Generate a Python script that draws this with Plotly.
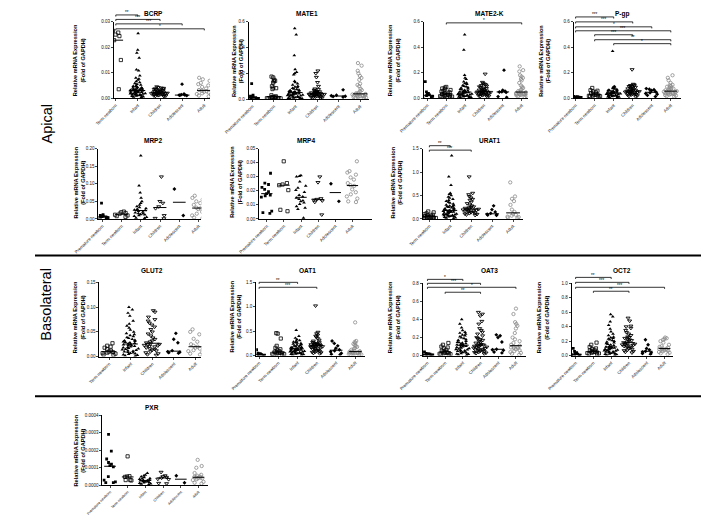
import numpy as np
import plotly.graph_objects as go

W, H = 709, 516
FONT = "Arial, 'Liberation Sans', sans-serif"

GROUPS = ["Premature newborn", "Term newborn", "Infant", "Children", "Adolescent", "Adult"]

# ---------------- data (relative mRNA expression, fold of GAPDH) ----------------
bcrp_term = [0.0265, 0.0258, 0.0250, 0.0244, 0.0228, 0.0178, 0.0150, 0.0108, 0.0035]
bcrp_infant = [0.0255, 0.0190, 0.0178, 0.0158, 0.0112, 0.0108, 0.0088, 0.0080, 0.0076, 0.0072,
               0.0066, 0.0062, 0.0058, 0.0055, 0.0052, 0.0049, 0.0047, 0.0045, 0.0043, 0.0041,
               0.0040, 0.0038, 0.0037, 0.0036, 0.0035, 0.0034, 0.0033, 0.0032, 0.0031, 0.0030,
               0.0030, 0.0029, 0.0028, 0.0028, 0.0027, 0.0026, 0.0025, 0.0025, 0.0024, 0.0023,
               0.0022, 0.0022, 0.0021, 0.0020, 0.0019, 0.0018, 0.0018, 0.0017, 0.0016, 0.0015,
               0.0014, 0.0013, 0.0012, 0.0011, 0.0010, 0.0009, 0.0008, 0.0006, 0.0005, 0.0004]
bcrp_children = [0.0045, 0.0042, 0.0040, 0.0039, 0.0037, 0.0036, 0.0035, 0.0034, 0.0032, 0.0030,
                 0.0029, 0.0028, 0.0027, 0.0026, 0.0025, 0.0024, 0.0023, 0.0022, 0.0021, 0.0021,
                 0.0020, 0.0019, 0.0018, 0.0018, 0.0017, 0.0016, 0.0015, 0.0015, 0.0014, 0.0013,
                 0.0012, 0.0011, 0.0010, 0.0009, 0.0008, 0.0007]
bcrp_adolescent = [0.0055, 0.0016, 0.0014, 0.0012, 0.0012, 0.0011, 0.0010]
bcrp_adult = [0.0080, 0.0074, 0.0068, 0.0060, 0.0055, 0.0050, 0.0044, 0.0038, 0.0032, 0.0029,
              0.0027, 0.0025, 0.0022, 0.0019, 0.0016, 0.0013, 0.0010, 0.0007]

mate1_prem = [0.120, 0.030, 0.024, 0.020, 0.016, 0.013, 0.011, 0.010, 0.008, 0.006, 0.005, 0.004]
mate1_term = [0.175, 0.168, 0.150, 0.142, 0.138, 0.128, 0.100, 0.090, 0.085, 0.078, 0.030, 0.022,
              0.018, 0.016, 0.014, 0.013, 0.011, 0.010, 0.009, 0.008, 0.007, 0.006, 0.005, 0.004]
mate1_infant = [0.55, 0.50, 0.34, 0.23, 0.21, 0.20, 0.19, 0.14, 0.13, 0.12, 0.11, 0.10, 0.095,
                0.09, 0.085, 0.08, 0.075, 0.07, 0.068, 0.065, 0.062, 0.06, 0.058, 0.055, 0.052,
                0.05, 0.048, 0.046, 0.044, 0.042, 0.04, 0.038, 0.036, 0.034, 0.032, 0.03, 0.028,
                0.026, 0.024, 0.022, 0.02, 0.018, 0.016, 0.014, 0.012, 0.01, 0.008, 0.006, 0.004, 0.003]
mate1_children = [0.22, 0.20, 0.17, 0.13, 0.10, 0.08, 0.075, 0.07, 0.065, 0.06, 0.058, 0.055,
                  0.052, 0.05, 0.048, 0.046, 0.045, 0.044, 0.042, 0.04, 0.039, 0.038, 0.036, 0.035,
                  0.034, 0.032, 0.03, 0.028, 0.026, 0.024, 0.022, 0.02, 0.018, 0.015, 0.012, 0.01, 0.008]
mate1_adol = [0.072, 0.030, 0.026, 0.022, 0.020, 0.016]
mate1_adult = [0.28, 0.26, 0.22, 0.20, 0.18, 0.165, 0.15, 0.12, 0.11, 0.10, 0.08, 0.07, 0.06,
               0.05, 0.045, 0.042, 0.04, 0.038, 0.036, 0.034, 0.032, 0.03, 0.028, 0.026, 0.024,
               0.022, 0.02, 0.018, 0.015, 0.012, 0.009, 0.006]

mate2k_prem = [0.13, 0.05, 0.038, 0.03, 0.025, 0.02, 0.017, 0.014, 0.011, 0.008]
mate2k_term = [0.088, 0.082, 0.076, 0.07, 0.064, 0.058, 0.052, 0.046, 0.04, 0.036, 0.032, 0.028,
               0.025, 0.022, 0.02, 0.018, 0.015, 0.012, 0.01, 0.008]
mate2k_infant = [0.50, 0.38, 0.18, 0.16, 0.15, 0.13, 0.12, 0.115, 0.11, 0.10, 0.095, 0.09, 0.085,
                 0.08, 0.075, 0.07, 0.066, 0.062, 0.058, 0.055, 0.052, 0.05, 0.048, 0.046, 0.044,
                 0.042, 0.04, 0.038, 0.036, 0.034, 0.032, 0.03, 0.028, 0.026, 0.024, 0.022, 0.02,
                 0.018, 0.016, 0.014, 0.012, 0.01, 0.008, 0.006, 0.004]
mate2k_children = [0.19, 0.125, 0.115, 0.11, 0.105, 0.1, 0.095, 0.09, 0.085, 0.08, 0.076, 0.072,
                   0.068, 0.064, 0.06, 0.058, 0.056, 0.054, 0.052, 0.05, 0.048, 0.046, 0.044, 0.042,
                   0.04, 0.038, 0.036, 0.034, 0.032, 0.03, 0.028, 0.025, 0.022, 0.02, 0.017, 0.014, 0.01]
mate2k_adol = [0.22, 0.062, 0.055, 0.05, 0.048, 0.045, 0.012, 0.006]
mate2k_adult = [0.25, 0.22, 0.21, 0.18, 0.17, 0.16, 0.15, 0.14, 0.12, 0.10, 0.09, 0.08, 0.07,
                0.062, 0.055, 0.05, 0.046, 0.043, 0.04, 0.038, 0.036, 0.034, 0.032, 0.031, 0.03,
                0.028, 0.027, 0.025, 0.022, 0.018, 0.014, 0.01]

pgp_prem = [0.016, 0.013, 0.011, 0.009, 0.008, 0.007, 0.006, 0.005, 0.004, 0.003]
pgp_term = [0.08, 0.062, 0.058, 0.052, 0.046, 0.04, 0.034, 0.03, 0.026, 0.022, 0.02, 0.018, 0.015,
            0.012, 0.01]
pgp_infant = [0.37, 0.092, 0.088, 0.084, 0.08, 0.076, 0.072, 0.068, 0.065, 0.062, 0.06, 0.058,
              0.056, 0.054, 0.052, 0.05, 0.048, 0.046, 0.044, 0.042, 0.04, 0.039, 0.038, 0.036,
              0.035, 0.034, 0.032, 0.03, 0.028, 0.026, 0.024, 0.022, 0.02, 0.018, 0.016, 0.014,
              0.012, 0.01, 0.008, 0.006]
pgp_children = [0.225, 0.11, 0.105, 0.1, 0.098, 0.095, 0.092, 0.09, 0.086, 0.082, 0.078, 0.074,
                0.07, 0.066, 0.063, 0.06, 0.058, 0.056, 0.054, 0.052, 0.05, 0.048, 0.046, 0.044,
                0.042, 0.04, 0.038, 0.035, 0.032, 0.03, 0.027, 0.024, 0.02, 0.016, 0.012]
pgp_adol = [0.075, 0.07, 0.066, 0.06, 0.05, 0.042, 0.036, 0.03, 0.022, 0.012]
pgp_adult = [0.18, 0.16, 0.14, 0.12, 0.105, 0.1, 0.095, 0.09, 0.085, 0.08, 0.075, 0.07, 0.066,
             0.062, 0.058, 0.055, 0.052, 0.05, 0.048, 0.045, 0.042, 0.04, 0.038, 0.035, 0.032,
             0.03, 0.027, 0.024, 0.02, 0.016, 0.012]

mrp2_prem = [0.045, 0.012, 0.010, 0.009, 0.008, 0.007, 0.006, 0.005, 0.0045, 0.004, 0.003, 0.002]
mrp2_term = [0.021, 0.019, 0.017, 0.015, 0.012, 0.010, 0.008, 0.006]
mrp2_infant = [0.18, 0.095, 0.075, 0.06, 0.05, 0.045, 0.04, 0.036, 0.033, 0.03, 0.028, 0.026,
               0.024, 0.022, 0.02, 0.018, 0.016, 0.015, 0.013, 0.012, 0.01, 0.008, 0.005, 0.003, 0.002]
mrp2_children = [0.12, 0.05, 0.045, 0.035, 0.03, 0.01, 0.002, 0.001]
mrp2_adol = [0.085, 0.010]
mrp2_adult = [0.07, 0.066, 0.06, 0.055, 0.05, 0.045, 0.04, 0.032, 0.03, 0.028, 0.02, 0.015, 0.01,
              0.007, 0.004, 0.002]

mrp4_prem = [0.0325, 0.0255, 0.0245, 0.0225, 0.021, 0.0195, 0.018, 0.017, 0.0165, 0.0155, 0.0055,
             0.0045, 0.004]
mrp4_term = [0.041, 0.0255, 0.0245, 0.024, 0.0205, 0.0065, 0.0055]
mrp4_infant = [0.031, 0.0305, 0.030, 0.0265, 0.0235, 0.022, 0.0205, 0.019, 0.017, 0.0158, 0.015,
               0.014, 0.013, 0.0125, 0.0115, 0.0105, 0.009, 0.0078, 0.007, 0.0008]
mrp4_children = [0.030, 0.026, 0.0145, 0.014, 0.0135, 0.013, 0.012, 0.003]
mrp4_adol = [0.025, 0.0125]
mrp4_adult = [0.041, 0.034, 0.033, 0.0315, 0.0295, 0.028, 0.0255, 0.024, 0.0235, 0.021, 0.019,
              0.0175, 0.016, 0.0145, 0.0125, 0.012]

urat1_term = [0.16, 0.14, 0.12, 0.10, 0.09, 0.08, 0.07, 0.06, 0.05, 0.045, 0.04, 0.035, 0.03,
              0.025, 0.02, 0.015, 0.01]
urat1_infant = [1.35, 0.90, 0.72, 0.55, 0.53, 0.50, 0.47, 0.45, 0.42, 0.40, 0.38, 0.36, 0.34,
                0.32, 0.30, 0.29, 0.28, 0.27, 0.26, 0.25, 0.24, 0.23, 0.22, 0.21, 0.20, 0.19,
                0.185, 0.18, 0.175, 0.17, 0.165, 0.16, 0.155, 0.15, 0.145, 0.14, 0.13, 0.12, 0.11,
                0.10, 0.095, 0.09, 0.085, 0.08, 0.075, 0.07, 0.065, 0.06, 0.055, 0.05, 0.04, 0.03,
                0.02, 0.01]
urat1_children = [0.90, 0.55, 0.52, 0.48, 0.45, 0.42, 0.40, 0.36, 0.33, 0.30, 0.28, 0.26, 0.25,
                  0.24, 0.23, 0.22, 0.21, 0.20, 0.195, 0.19, 0.185, 0.18, 0.17, 0.16, 0.15, 0.14,
                  0.13, 0.12, 0.11, 0.10, 0.09, 0.08]
urat1_adol = [0.28, 0.20, 0.15, 0.12, 0.10, 0.09, 0.085, 0.08]
urat1_adult = [0.78, 0.48, 0.43, 0.38, 0.30, 0.20, 0.15, 0.11, 0.09, 0.07, 0.05, 0.04, 0.03, 0.02]

glut2_term = [0.027, 0.022, 0.02, 0.018, 0.015, 0.012, 0.01, 0.009, 0.008, 0.007, 0.006, 0.004, 0.003]
glut2_infant = [0.10, 0.095, 0.088, 0.082, 0.072, 0.066, 0.062, 0.058, 0.054, 0.05, 0.047, 0.045,
                0.043, 0.041, 0.039, 0.037, 0.035, 0.033, 0.032, 0.031, 0.03, 0.029, 0.028, 0.027,
                0.026, 0.025, 0.024, 0.023, 0.022, 0.021, 0.02, 0.019, 0.018, 0.017, 0.016, 0.015,
                0.014, 0.013, 0.012, 0.011, 0.01, 0.009, 0.008, 0.007, 0.006, 0.005, 0.004, 0.003,
                0.002, 0.001]
glut2_children = [0.093, 0.09, 0.08, 0.075, 0.072, 0.068, 0.064, 0.06, 0.055, 0.05, 0.046, 0.042,
                  0.038, 0.035, 0.032, 0.03, 0.028, 0.026, 0.025, 0.024, 0.023, 0.022, 0.021, 0.02,
                  0.018, 0.016, 0.015, 0.013, 0.012, 0.01, 0.008, 0.006, 0.004, 0.003]
glut2_adol = [0.047, 0.035, 0.028, 0.012, 0.01, 0.009, 0.008, 0.007]
glut2_adult = [0.055, 0.05, 0.045, 0.036, 0.03, 0.025, 0.022, 0.02, 0.018, 0.016, 0.013, 0.011,
               0.009, 0.006, 0.004]

oat1_prem = [0.12, 0.05, 0.04, 0.03, 0.025, 0.02, 0.016, 0.012, 0.008, 0.005]
oat1_term = [0.46, 0.45, 0.35, 0.20, 0.16, 0.13, 0.11, 0.09, 0.08, 0.07, 0.06, 0.05, 0.045, 0.04,
             0.035, 0.03, 0.02, 0.01]
oat1_infant = [0.52, 0.40, 0.36, 0.33, 0.31, 0.30, 0.28, 0.27, 0.26, 0.25, 0.24, 0.23, 0.22, 0.21,
               0.2, 0.19, 0.18, 0.175, 0.17, 0.165, 0.16, 0.155, 0.15, 0.145, 0.14, 0.135, 0.13,
               0.125, 0.12, 0.115, 0.11, 0.105, 0.1, 0.095, 0.09, 0.085, 0.08, 0.075, 0.07, 0.065,
               0.06, 0.055, 0.05, 0.045, 0.04, 0.035, 0.03, 0.025, 0.02, 0.015]
oat1_children = [1.02, 0.48, 0.45, 0.42, 0.40, 0.38, 0.35, 0.32, 0.30, 0.28, 0.27, 0.26, 0.25, 0.24,
                 0.235, 0.23, 0.225, 0.22, 0.215, 0.21, 0.205, 0.2, 0.195, 0.19, 0.185, 0.18, 0.17,
                 0.16, 0.15, 0.14, 0.13, 0.12, 0.11, 0.1, 0.09, 0.08, 0.07, 0.06, 0.05, 0.04]
oat1_adol = [0.30, 0.25, 0.20, 0.15, 0.12, 0.10, 0.08, 0.05, 0.03, 0.02]
oat1_adult = [0.68, 0.30, 0.28, 0.26, 0.24, 0.22, 0.20, 0.18, 0.16, 0.14, 0.12, 0.10, 0.09, 0.085,
              0.08, 0.075, 0.07, 0.065, 0.06, 0.055, 0.05, 0.045, 0.04, 0.035, 0.03, 0.025, 0.02, 0.015]

oat3_prem = [0.042, 0.025, 0.02, 0.018, 0.015, 0.012, 0.01, 0.008, 0.006, 0.005]
oat3_term = [0.14, 0.12, 0.10, 0.09, 0.08, 0.065, 0.055, 0.045, 0.038, 0.032, 0.028, 0.024, 0.02,
             0.016, 0.012, 0.008]
oat3_infant = [0.40, 0.35, 0.31, 0.28, 0.26, 0.25, 0.24, 0.23, 0.22, 0.21, 0.2, 0.19, 0.18, 0.17,
               0.16, 0.15, 0.145, 0.14, 0.135, 0.13, 0.125, 0.12, 0.115, 0.11, 0.105, 0.1, 0.095,
               0.09, 0.085, 0.08, 0.075, 0.07, 0.065, 0.06, 0.055, 0.05, 0.045, 0.04, 0.035, 0.03,
               0.025, 0.02, 0.015, 0.01, 0.005]
oat3_children = [0.48, 0.46, 0.44, 0.38, 0.35, 0.30, 0.28, 0.26, 0.24, 0.22, 0.2, 0.19, 0.18, 0.17,
                 0.16, 0.15, 0.14, 0.13, 0.125, 0.12, 0.115, 0.11, 0.105, 0.1, 0.095, 0.09, 0.085,
                 0.08, 0.075, 0.07, 0.065, 0.06, 0.055, 0.05, 0.045, 0.04, 0.035, 0.03, 0.025, 0.02]
oat3_adol = [0.23, 0.22, 0.20, 0.15, 0.07, 0.065, 0.06, 0.04, 0.03]
oat3_adult = [0.52, 0.46, 0.37, 0.35, 0.33, 0.30, 0.25, 0.20, 0.18, 0.16, 0.14, 0.12, 0.11, 0.1,
              0.095, 0.09, 0.085, 0.08, 0.07, 0.06, 0.05, 0.04, 0.03, 0.02, 0.01]

oct2_prem = [0.10, 0.06, 0.04, 0.03, 0.02, 0.015, 0.01, 0.008, 0.005, 0.003]
oct2_term = [0.18, 0.15, 0.12, 0.10, 0.09, 0.08, 0.07, 0.06, 0.055, 0.05, 0.045, 0.04, 0.035,
             0.03, 0.025, 0.02]
oct2_infant = [0.57, 0.54, 0.47, 0.42, 0.37, 0.33, 0.30, 0.28, 0.26, 0.25, 0.24, 0.23, 0.22, 0.21,
               0.2, 0.19, 0.18, 0.17, 0.16, 0.15, 0.14, 0.13, 0.125, 0.12, 0.115, 0.11, 0.105, 0.1,
               0.095, 0.09, 0.085, 0.08, 0.075, 0.07, 0.065, 0.06, 0.055, 0.05, 0.045, 0.04, 0.035,
               0.03, 0.025, 0.02, 0.015, 0.01, 0.005]
oct2_children = [0.52, 0.48, 0.41, 0.40, 0.38, 0.35, 0.32, 0.3, 0.28, 0.26, 0.25, 0.24, 0.23, 0.22,
                 0.21, 0.2, 0.19, 0.18, 0.165, 0.16, 0.155, 0.15, 0.145, 0.14, 0.135, 0.13, 0.12,
                 0.11, 0.1, 0.09, 0.08, 0.07, 0.06, 0.05, 0.04]
oct2_adol = [0.22, 0.15, 0.10, 0.08, 0.06, 0.05, 0.04, 0.03, 0.02]
oct2_adult = [0.25, 0.24, 0.23, 0.22, 0.20, 0.18, 0.15, 0.13, 0.12, 0.11, 0.10, 0.095, 0.09, 0.085,
              0.08, 0.075, 0.07, 0.06, 0.05, 0.04, 0.03, 0.02]

pxr_prem = [0.00029, 0.000195, 0.00015, 0.00013, 0.00012, 0.000112, 0.000105, 0.00005, 0.00003,
            0.00002, 0.000015, 0.000015]
pxr_term = [0.000165, 0.000052, 0.00005, 0.000048, 0.00003, 0.00003, 0.000028]
pxr_infant = [0.00007, 0.00006, 0.000055, 0.00005, 0.000045, 0.00004, 0.000038, 0.000035, 0.000032,
              0.00003, 0.000028, 0.000026, 0.000024, 0.000022, 0.00002, 0.000018, 0.000015,
              0.000012, 0.00001, 0.000008, 0.000005]
pxr_children = [0.000075, 0.000055, 0.00005, 0.000046, 0.000042, 0.000036, 0.000034, 0.000012, 0.00001]
pxr_adol = [0.000055, 0.000015]
pxr_adult = [0.000145, 0.00011, 0.0001, 0.00007, 0.00006, 0.000055, 0.00005, 0.000048, 0.000046,
             0.000044, 0.000042, 0.00004, 0.000035, 0.00003, 0.00002, 0.000015, 0.00001]

# ---------------- styles ----------------
MARKERS = {
    "Premature newborn": dict(symbol="square", color="black", size=2.8, line=dict(width=0)),
    "Term newborn": dict(symbol="square-open", color="black", size=3.2, line=dict(width=0.8, color="black")),
    "Infant": dict(symbol="triangle-up", color="black", size=3.3, line=dict(width=0)),
    "Children": dict(symbol="triangle-down-open", color="black", size=3.5, line=dict(width=0.9, color="black")),
    "Adolescent": dict(symbol="diamond", color="black", size=3.0, line=dict(width=0)),
    "Adult": dict(symbol="circle-open", color="#8a8a8a", size=3.3, line=dict(width=0.8, color="#8a8a8a")),
}

# geometry in pixels: x0 = y-axis position, x1 = end of x-axis, c0 = first category, step = category spacing
PANELS = [
    dict(title="BCRP", groups=GROUPS[1:], data=[bcrp_term, bcrp_infant, bcrp_children, bcrp_adolescent, bcrp_adult],
         ymax=0.03, ticks=[0, 0.01, 0.02, 0.03], fmt="{:.2f}", x0=82, x1=182, c0=84, step=23, yt=12, yb=89,
         tx=123, ty=4, ytx=45.5, yty=51,
         br=[(0, 1, 5, "**"), (0, 2, 9.5, "***"), (0, 3, 14, "***"), (0, 4, 19, "*")]),
    dict(title="MATE1", groups=GROUPS, data=[mate1_prem, mate1_term, mate1_infant, mate1_children, mate1_adol, mate1_adult],
         ymax=0.6, ticks=[0, 0.2, 0.4, 0.6], fmt="{:.1f}", x0=222, x1=347, c0=226, step=22.4, yt=12, yb=90,
         tx=283, ty=4, ytx=210.5, yty=51, br=[]),
    dict(title="MATE2-K", groups=GROUPS, data=[mate2k_prem, mate2k_term, mate2k_infant, mate2k_children, mate2k_adol, mate2k_adult],
         ymax=0.6, ticks=[0, 0.2, 0.4, 0.6], fmt="{:.1f}", x0=404, x1=512, c0=408, step=19.6, yt=12, yb=89,
         tx=473, ty=4, ytx=373, yty=51, br=[(1, 5, 13, "*")]),
    dict(title="P-gp", groups=GROUPS, data=[pgp_prem, pgp_term, pgp_infant, pgp_children, pgp_adol, pgp_adult],
         ymax=0.6, ticks=[0, 0.2, 0.4, 0.6], fmt="{:.1f}", x0=560, x1=672, c0=562, step=19.8, yt=12, yb=89,
         tx=610, ty=4, ytx=529.5, yty=51,
         br=[(0, 2, 7, "***"), (0, 3, 12, "***"), (0, 4, 17, "*"), (0, 5, 21, "***"),
             (1, 3, 25, "***"), (1, 5, 30, "**"), (2, 5, 34, "*")]),
    dict(title="MRP2", groups=GROUPS, data=[mrp2_prem, mrp2_term, mrp2_infant, mrp2_children, mrp2_adol, mrp2_adult],
         ymax=0.20, ticks=[0, 0.05, 0.10, 0.15, 0.20], fmt="{:.2f}", x0=66, x1=173, c0=70, step=20, yt=140, yb=211,
         tx=123, ty=132, ytx=46, yty=174, br=[]),
    dict(title="MRP4", groups=GROUPS, data=[mrp4_prem, mrp4_term, mrp4_infant, mrp4_children, mrp4_adol, mrp4_adult],
         ymax=0.05, ticks=[0, 0.01, 0.02, 0.03, 0.04, 0.05], fmt="{:.2f}", x0=233, x1=350, c0=241, step=17.8,
         yt=140, yb=211, tx=282, ty=132, ytx=208.5, yty=174, br=[]),
    dict(title="URAT1", groups=GROUPS[1:], data=[urat1_term, urat1_infant, urat1_children, urat1_adol, urat1_adult],
         ymax=1.5, ticks=[0, 0.5, 1.0, 1.5], fmt="{:.1f}", x0=403, x1=507, c0=410, step=21.75, yt=140, yb=211,
         tx=473, ty=132, ytx=375.5, yty=174, br=[(0, 1, 137, "**"), (0, 2, 141.5, "***")]),
    dict(title="GLUT2", groups=GROUPS[1:], data=[glut2_term, glut2_infant, glut2_children, glut2_adol, glut2_adult],
         ymax=0.15, ticks=[0, 0.05, 0.10, 0.15], fmt="{:.2f}", x0=67, x1=173, c0=77, step=22.5, yt=275, yb=350,
         tx=122, ty=263, ytx=46, yty=310, br=[]),
    dict(title="OAT1", groups=GROUPS, data=[oat1_prem, oat1_term, oat1_infant, oat1_children, oat1_adol, oat1_adult],
         ymax=1.5, ticks=[0, 0.5, 1.0, 1.5], fmt="{:.1f}", x0=230, x1=343, c0=233, step=20, yt=275, yb=349,
         tx=283, ty=263, ytx=208.5, yty=310, br=[(0, 2, 275, "**"), (0, 3, 280, "***")]),
    dict(title="OAT3", groups=GROUPS, data=[oat3_prem, oat3_term, oat3_infant, oat3_children, oat3_adol, oat3_adult],
         ymax=0.8, ticks=[0, 0.2, 0.4, 0.6, 0.8], fmt="{:.1f}", x0=403, x1=510, c0=408, step=18.4, yt=276, yb=349,
         tx=473, ty=263, ytx=373.5, yty=310,
         br=[(0, 2, 272, "*"), (0, 3, 276, "***"), (0, 5, 280, "*"), (1, 3, 285, "**")]),
    dict(title="OCT2", groups=GROUPS, data=[oct2_prem, oct2_term, oct2_infant, oct2_children, oct2_adol, oct2_adult],
         ymax=1.0, ticks=[0, 0.2, 0.4, 0.6, 0.8, 1.0], fmt="{:.1f}", x0=558, x1=663, c0=562, step=18.5, yt=276, yb=349,
         tx=610, ty=263, ytx=528.5, yty=310,
         br=[(0, 2, 270, "**"), (0, 3, 275, "***"), (0, 5, 280, "***"), (1, 3, 284, "**")]),
    dict(title="PXR", groups=GROUPS, data=[pxr_prem, pxr_term, pxr_infant, pxr_children, pxr_adol, pxr_adult],
         ymax=0.0004, ticks=[0, 0.0001, 0.0002, 0.0003, 0.0004], fmt="{:.4f}", x0=70, x1=180, c0=78, step=18.4,
         yt=409, yb=480, tx=122, ty=401, ytx=46.5, yty=445, br=[], xfont=3.7),
]


def fx(px):
    return px / W


def fy(py):
    return 1 - py / H


fig = go.Figure()
layout = dict(width=W, height=H, margin=dict(l=0, r=0, t=0, b=0), showlegend=False,
              paper_bgcolor="white", plot_bgcolor="white", font=dict(family=FONT, color="black"))
shapes, annotations = [], []

for k, p in enumerate(PANELS, start=1):
    xs = "x" if k == 1 else f"x{k}"
    ys = "y" if k == 1 else f"y{k}"
    xkey = "xaxis" if k == 1 else f"xaxis{k}"
    ykey = "yaxis" if k == 1 else f"yaxis{k}"
    n = len(p["groups"])
    xr = [(p["x0"] - p["c0"]) / p["step"], (p["x1"] - p["c0"]) / p["step"]]
    layout[xkey] = dict(domain=[fx(p["x0"]), fx(p["x1"])], range=xr, anchor=ys,
                        tickmode="array", tickvals=list(range(n)), ticktext=p["groups"],
                        tickangle=-45, tickfont=dict(size=p.get("xfont", 4.4), family=FONT, color="#111111"),
                        showline=True, linecolor="black", linewidth=1, ticks="outside",
                        ticklen=2, tickwidth=0.8, showgrid=False, zeroline=False, fixedrange=True)
    layout[ykey] = dict(domain=[fy(p["yb"]), fy(p["yt"])], range=[0, p["ymax"]], anchor=xs,
                        tickmode="array", tickvals=p["ticks"],
                        ticktext=[p["fmt"].format(t) for t in p["ticks"]],
                        tickfont=dict(size=4.5, family=FONT, color="#111111"),
                        showline=True, linecolor="black", linewidth=1, ticks="outside",
                        ticklen=2, tickwidth=0.8, showgrid=False, zeroline=False, fixedrange=True)
    for j, (g, vals) in enumerate(zip(p["groups"], p["data"])):
        fig.add_trace(go.Box(x=[j] * len(vals), y=vals, xaxis=xs, yaxis=ys, boxpoints="all",
                             jitter=1, pointpos=0, width=0.8, fillcolor="rgba(0,0,0,0)",
                             line=dict(width=0, color="rgba(0,0,0,0)"), whiskerwidth=0,
                             marker=MARKERS[g], hoverinfo="skip", showlegend=False))
        med = float(np.median(vals))
        fig.add_trace(go.Scatter(x=[j - 0.33, j + 0.33], y=[med, med], xaxis=xs, yaxis=ys,
                                 mode="lines", line=dict(color="black", width=1),
                                 hoverinfo="skip", showlegend=False))
    # title
    annotations.append(dict(text=f"<b>{p['title']}</b>", x=fx(p["tx"]), y=fy(p["ty"]), xref="paper",
                            yref="paper", showarrow=False, xanchor="center", yanchor="middle",
                            font=dict(size=6.5, family=FONT)))
    # y-axis title
    annotations.append(dict(text="<b>Relative mRNA Expression<br>(Fold of GAPDH)</b>", x=fx(p["ytx"]),
                            y=fy(p["yty"]), xref="paper", yref="paper", showarrow=False, textangle=-90,
                            xanchor="center", yanchor="middle", font=dict(size=5.6, family=FONT)))
    # significance brackets
    for a, b, ypx, lab in p["br"]:
        xa = fx(p["c0"] + a * p["step"])
        xb = fx(p["c0"] + b * p["step"])
        y = fy(ypx)
        y2 = fy(ypx + 1.6)
        shapes.append(dict(type="path", xref="paper", yref="paper",
                           path=f"M {xa},{y2} L {xa},{y} L {xb},{y} L {xb},{y2}",
                           line=dict(color="black", width=0.8)))
        annotations.append(dict(text=lab, x=(xa + xb) / 2, y=y, xref="paper", yref="paper",
                                showarrow=False, xanchor="center", yanchor="bottom", yshift=-2.5,
                                font=dict(size=4.5, family=FONT)))

# row labels and separators
annotations.append(dict(text="Apical", x=fx(12), y=fy(115), xref="paper", yref="paper", showarrow=False,
                        textangle=-90, xanchor="center", yanchor="middle", font=dict(size=14.5, family=FONT)))
annotations.append(dict(text="Basolateral", x=fx(12), y=fy(297), xref="paper", yref="paper", showarrow=False,
                        textangle=-90, xanchor="center", yanchor="middle", font=dict(size=14.5, family=FONT)))
for ypx in (248, 390):
    shapes.append(dict(type="line", xref="paper", yref="paper", x0=0, x1=1, y0=fy(ypx), y1=fy(ypx),
                       line=dict(color="black", width=2)))

layout["shapes"] = shapes
layout["annotations"] = annotations
fig.update_layout(**layout)
fig.write_html("out.html")
